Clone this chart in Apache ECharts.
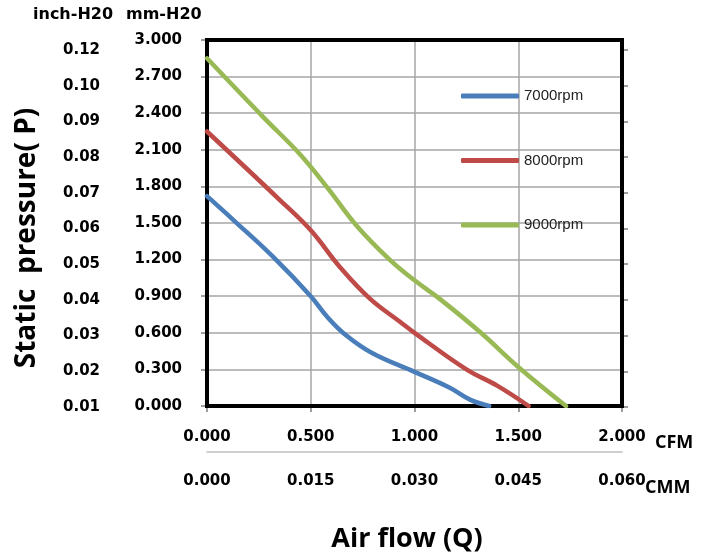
<!DOCTYPE html>
<html>
<head>
<meta charset="utf-8">
<script src="https://cdn.jsdelivr.net/npm/echarts@6/dist/echarts.min.js"></script>
<style>html,body{margin:0;padding:0;background:#fff;}#c{width:711px;height:555px;}</style>
</head>
<body>
<div id="c"></div>
<script>
// ---- data ----
const seriesNames = ['7000rpm', '8000rpm', '9000rpm'];
const flow7000 = [0, 0.13, 0.32, 0.5, 0.58, 0.67, 0.8, 1.0, 1.17, 1.27, 1.36];
const pres7000 = [1.72, 1.52, 1.22, 0.9, 0.73, 0.58, 0.43, 0.28, 0.15, 0.05, 0];
const flow8000 = [0, 0.35, 0.5, 0.64, 0.785, 0.93, 1.0, 1.25, 1.4, 1.55];
const pres8000 = [2.25, 1.69, 1.44, 1.14, 0.88, 0.69, 0.6, 0.3, 0.165, 0];
const flow9000 = [0, 0.27, 0.45, 0.58, 0.72, 0.88, 1.0, 1.12, 1.32, 1.5, 1.73];
const pres9000 = [2.85, 2.37, 2.06, 1.79, 1.48, 1.2, 1.03, 0.88, 0.6, 0.32, 0];
const inchLabels = ['0.01', '0.02', '0.03', '0.04', '0.05', '0.06', '0.07', '0.08', '0.09', '0.10', '0.12'];
const colors = ['#4a7ebb', '#be4b48', '#98b954'];

function pairs(xs, ys) { return xs.map((x, i) => [x, ys[i]]); }

const labelFont = { fontFamily: 'DejaVu Sans', fontWeight: 'bold', fontSize: 15, color: '#000' };
const titleFont = 'bold 18px "Open Sans"';

function lineSeries(i, xs, ys) {
  return { name: seriesNames[i], type: 'line', smooth: 0.4, showSymbol: false,
    xAxisIndex: 0, yAxisIndex: 0, z: 4,
    lineStyle: { width: 4.5, color: colors[i], cap: 'round' }, itemStyle: { color: colors[i] },
    data: pairs(xs, ys) };
}

const chart = echarts.init(document.getElementById('c'));
chart.setOption({
  animation: false,
  grid: [
    { left: 207, right: 89, top: 40, bottom: 149, show: true, borderColor: '#000', borderWidth: 4, backgroundColor: 'transparent', z: 3 },
    { left: 207, right: 89, top: 50, bottom: 148, show: false }
  ],
  xAxis: [
    { type: 'value', gridIndex: 0, min: 0, max: 2, interval: 0.5, position: 'bottom',
      axisLine: { show: false },
      axisTick: { show: true, inside: false, length: 6, lineStyle: { color: '#808080', width: 1.5 } },
      splitLine: { show: true, lineStyle: { color: '#a6a6a6', width: 1.5 } },
      axisLabel: Object.assign({ margin: 24, formatter: v => v.toFixed(3) }, labelFont) },
    { type: 'value', gridIndex: 0, min: 0, max: 0.06, interval: 0.015, position: 'bottom', offset: 46,
      axisLine: { show: true, lineStyle: { color: '#bfbfbf', width: 1.5 } },
      axisTick: { show: false }, splitLine: { show: false },
      axisLabel: Object.assign({ margin: 22, formatter: v => v.toFixed(3) }, labelFont) },
    { type: 'value', gridIndex: 1, min: 0, max: 2, show: false }
  ],
  yAxis: [
    { type: 'value', gridIndex: 0, min: 0, max: 3, interval: 0.3, position: 'left',
      axisLine: { show: false },
      axisTick: { show: true, inside: false, length: 6, lineStyle: { color: '#808080', width: 1.5 } },
      splitLine: { show: true, lineStyle: { color: '#a6a6a6', width: 1.5 } },
      axisLabel: Object.assign({ margin: 25, formatter: v => v.toFixed(3) }, labelFont) },
    { type: 'value', gridIndex: 1, min: 0, max: 10, interval: 1, position: 'left',
      axisLine: { show: false }, axisTick: { show: false }, splitLine: { show: false },
      axisLabel: Object.assign({ margin: 107, formatter: v => inchLabels[Math.round(v)] }, labelFont) },
    { type: 'value', gridIndex: 1, min: 0, max: 10, interval: 1, position: 'right',
      axisLine: { show: false }, splitLine: { show: false }, axisLabel: { show: false },
      axisTick: { show: true, inside: false, length: 6, lineStyle: { color: '#808080', width: 1.5 } } }
  ],
  legend: {
    orient: 'vertical', left: 461, top: 88, padding: 0, itemGap: 48.5,
    icon: 'roundRect', itemWidth: 58, itemHeight: 5, itemStyle: { borderWidth: 0 },
    textStyle: { fontFamily: 'Liberation Sans', fontSize: 15, lineHeight: 16, color: '#222' },
    data: seriesNames
  },
  series: [
    lineSeries(0, flow7000, pres7000),
    lineSeries(1, flow8000, pres8000),
    lineSeries(2, flow9000, pres9000)
  ],
  graphic: [
    { type: 'text', left: 33, top: 7, style: { text: 'inch-H20', font: 'bold 16px "DejaVu Sans"', fill: '#000' } },
    { type: 'text', left: 126, top: 7, style: { text: 'mm-H20', font: 'bold 16px "DejaVu Sans"', fill: '#000' } },
    { type: 'text', x: 27, y: 238, rotation: Math.PI / 2,
      style: { text: 'Static  pressure( P)', font: 'bold 28px "Open Sans"', fill: '#000', align: 'center', verticalAlign: 'middle' } },
    { type: 'text', x: 407, y: 539,
      style: { text: 'Air flow (Q)', font: 'bold 27px "Open Sans"', fill: '#000', align: 'center', verticalAlign: 'middle' } },
    { type: 'text', x: 655, y: 443, style: { text: 'CFM', font: titleFont, fill: '#000', verticalAlign: 'middle' } },
    { type: 'text', x: 645, y: 488, style: { text: 'CMM', font: titleFont, fill: '#000', verticalAlign: 'middle' } }
  ]
});
</script>
</body>
</html>
